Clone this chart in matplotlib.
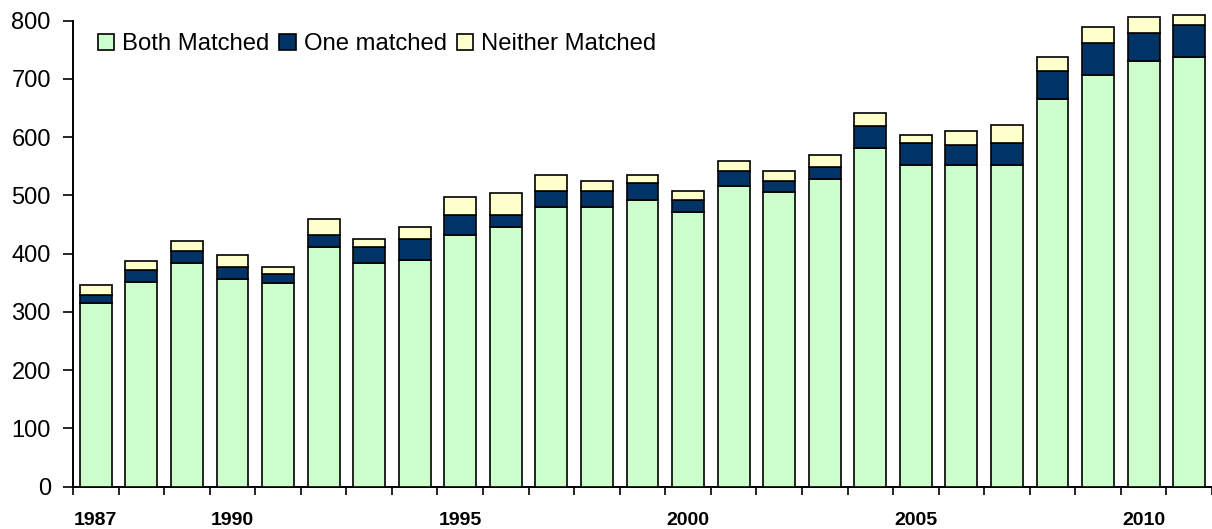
import matplotlib
matplotlib.use("Agg")
import matplotlib.pyplot as plt
from matplotlib.patches import Patch
import numpy as np

plt.rcParams['font.family'] = ['Liberation Sans', 'DejaVu Sans']

years = list(range(1987, 2012))
both_matched = [315, 352, 384, 356, 349, 411, 384, 389, 432, 445, 480, 480, 493, 472,
                517, 506, 528, 582, 552, 552, 552, 665, 706, 730, 737]
one_matched = [14, 20, 20, 21, 17, 21, 27, 36, 34, 21, 28, 28, 28, 21,
               25, 19, 20, 38, 38, 34, 38, 49, 55, 49, 56]
neither_matched = [17, 15, 18, 21, 12, 28, 15, 21, 31, 38, 27, 17, 14, 15,
                   17, 17, 22, 21, 14, 25, 31, 24, 29, 28, 17]
labeled_years = [1987, 1990, 1995, 2000, 2005, 2010]
series_names = ["Both Matched", "One matched", "Neither Matched"]
colors = ["#CCFFCC", "#003366", "#FFFFCC"]

fig = plt.figure(figsize=(12.12, 5.29), dpi=100)
ax = fig.add_axes([73/1212, 1-486.7/529, 1-73/1212, (486.7-20.7)/529])

x = np.arange(len(years))
b = np.array(both_matched)
o = np.array(one_matched)
n = np.array(neither_matched)
w = 0.70
kw = dict(width=w, edgecolor='black', linewidth=1.2, clip_on=False, zorder=3)
ax.bar(x, b, color=colors[0], **kw)
ax.bar(x, o, bottom=b, color=colors[1], **kw)
ax.bar(x, n, bottom=b+o, color=colors[2], **kw)

ax.set_xlim(-0.5, len(years)-0.5)
ax.set_ylim(0, 800)
ax.set_yticks(range(0, 801, 100))
ax.tick_params(axis='y', direction='out', length=7, width=1.2, labelsize=17, pad=9)

# category boundary ticks
ax.set_xticks(np.arange(-0.5, len(years)+0.5, 1.0))
ax.set_xticklabels([])
ax.tick_params(axis='x', which='major', direction='out', length=6, width=1.2)
# labels under bars
lab_pos = [years.index(yv) for yv in labeled_years]
ax.set_xticks(lab_pos, minor=True)
ax.set_xticklabels([str(yv) for yv in labeled_years], minor=True, fontweight='bold', fontsize=14)
ax.tick_params(axis='x', which='minor', length=0, pad=18)

for s in ['top', 'right']:
    ax.spines[s].set_visible(False)
for s in ['left', 'bottom']:
    ax.spines[s].set_linewidth(1.4)

handles = [Patch(facecolor=c, edgecolor='black', linewidth=1.2) for c in colors]
fig.legend(handles, series_names, loc='center left', bbox_to_anchor=(98/1212, 1-44.5/529),
           ncol=3, frameon=False, fontsize=17.2, handlelength=0.68, handleheight=0.68,
           handletextpad=0.33, columnspacing=0.42, borderpad=0, borderaxespad=0)

fig.savefig("out.png", dpi=100)
